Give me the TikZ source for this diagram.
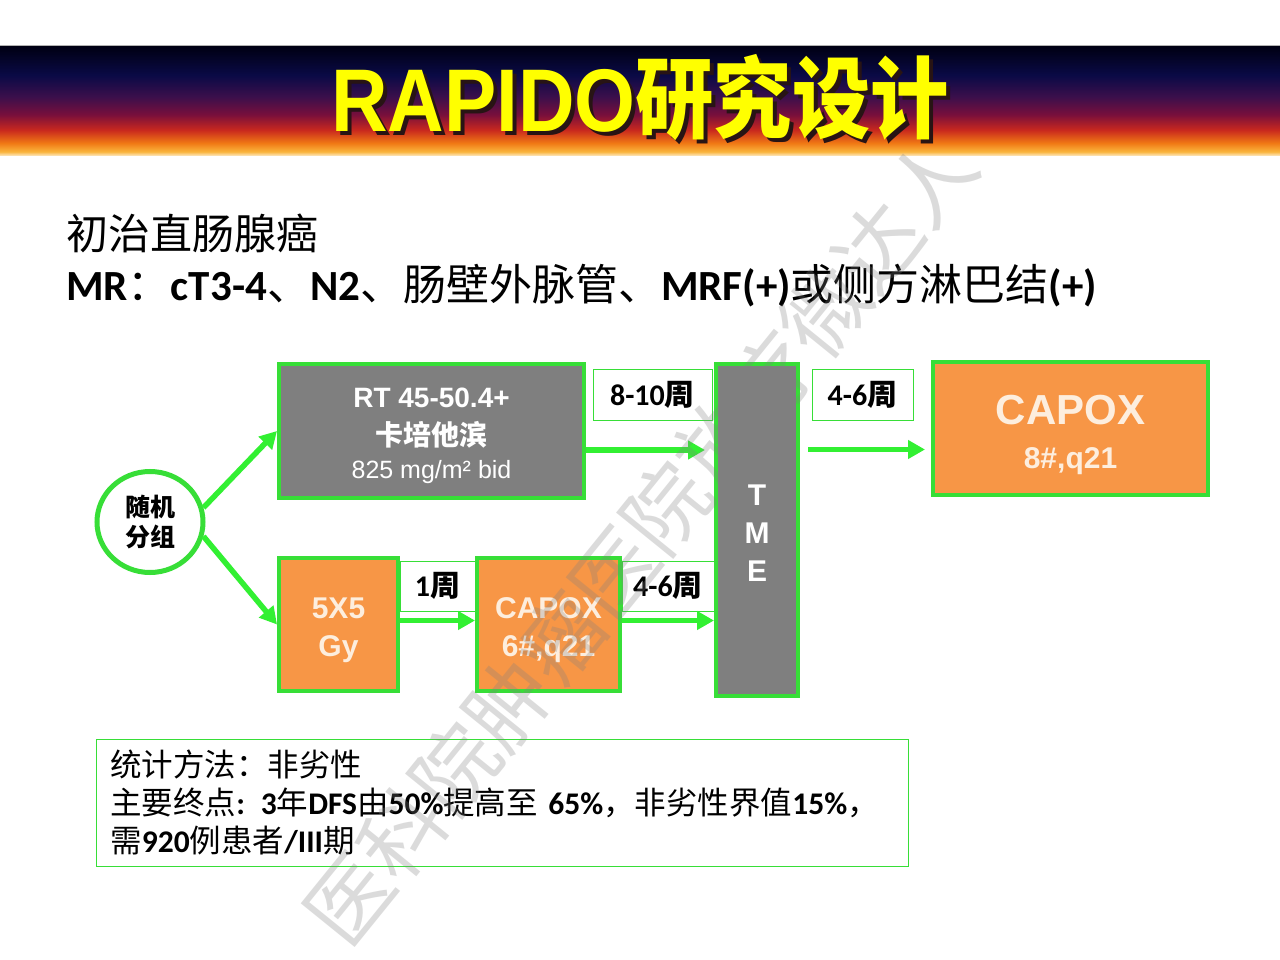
\documentclass[tikz,border=0pt]{standalone}
\usepackage{fontspec}
\setmainfont{Carlito}
\newfontfamily\arialfont{Liberation Sans}
\newfontfamily\cjk{Noto Sans CJK SC}
\usetikzlibrary{shapes.geometric}
\usetikzlibrary{arrows.meta}
\definecolor{rapido-green}{RGB}{55, 222, 55}
\definecolor{arrow-green}{RGB}{50, 240, 50}
\definecolor{rapido-orange}{RGB}{247, 150, 70}
\definecolor{rapido-gray}{RGB}{127, 127, 127}
\definecolor{rapido-cream}{RGB}{253, 238, 222}
\definecolor{title-yellow}{RGB}{255, 255, 0}
\definecolor{title-shadow}{RGB}{40, 20, 20}
\definecolor{bar-dark}{RGB}{0, 0, 20}
\definecolor{bar-navy}{RGB}{10, 10, 70}
\definecolor{bar-purple}{RGB}{60, 15, 75}
\definecolor{bar-maroon}{RGB}{120, 15, 60}
\definecolor{bar-red}{RGB}{200, 40, 30}
\definecolor{bar-orange}{RGB}{240, 120, 20}
\definecolor{bar-light}{RGB}{250, 180, 60}
\definecolor{bar-cream}{RGB}{253, 235, 200}
\pgfdeclareverticalshading{titlebar}{100bp}{color(0bp)=(bar-cream); color(25bp)=(bar-cream); color(27bp)=(bar-light); color(31bp)=(bar-orange); color(37bp)=(bar-red); color(44bp)=(bar-maroon); color(52bp)=(bar-purple); color(62bp)=(bar-navy); color(75bp)=(bar-dark); color(100bp)=(bar-dark)}
\newcommand{\zh}[1]{{\cjk #1}}

\begin{document}
\begin{tikzpicture}[x=1pt, y=-1pt,
    treat/.style={draw=rapido-green, line width=4pt, inner sep=0pt, align=center, font=\arialfont\bfseries},
    graybox/.style={treat, fill=rapido-gray, text=white},
    orangebox/.style={treat, fill=rapido-orange, text=rapido-cream},
    gap/.style={draw=rapido-green, line width=0.8pt, fill=white, inner sep=0pt, font=\bfseries\fontsize{30}{30}\selectfont},
    flow/.style={draw=arrow-green, line width=5.5pt, -{Triangle[length=17pt, width=18pt]}}]
\useasboundingbox (0,0) rectangle (1280,960);
\fill[white] (0,0) rectangle (1280,960);

% title bar
\draw[gray!60, line width=2pt] (0,46) -- (1280,46);
\shade[shading=titlebar] (0,47) rectangle (1280,156);
\node[anchor=base, inner sep=0pt, text=title-shadow] (titleshadow) at (644,136) {\scalebox{0.88}[1]{\fontsize{89}{89}\selectfont\bfseries{\arialfont RAPIDO}\zh{研究设计}}};
\node[anchor=base, inner sep=0pt, text=title-yellow] (title) at (640,132) {\scalebox{0.88}[1]{\fontsize{89}{89}\selectfont\bfseries{\arialfont RAPIDO}\zh{研究设计}}};

% patients
\node[anchor=base west, inner sep=0pt, font=\fontsize{42}{42}\selectfont] (cohort) at (66,250) {\zh{初治直肠腺癌}};
\node[anchor=base west, inner sep=0pt, font=\bfseries\fontsize{43}{43}\selectfont] (criteria) at (66,300) {MR\zh{\mdseries ：}cT3-4\zh{\mdseries 、}N2\zh{\mdseries 、肠壁外脉管、}MRF(+)\zh{\mdseries 或侧方淋巴结}(+)};

% gaps between steps
\node[gap, minimum width=119, minimum height=51] (gapten) at (652.5,394.5) {8-10\zh{周}};
\node[gap, minimum width=101, minimum height=51] (gapsixtop) at (862.5,394.5) {4-6\zh{周}};
\node[gap, minimum width=75, minimum height=50] (gapone) at (437.5,586) {1\zh{周}};
\node[gap, minimum width=92, minimum height=50] (gapsix) at (668,586) {4-6\zh{周}};

% arms
\node[ellipse, draw=rapido-green, line width=5pt, fill=white, minimum width=106, minimum height=101, inner sep=0pt, align=center, font=\cjk\bfseries\fontsize{25}{30}\selectfont] (random) at (150,522) {随机\\分组};
\node[graybox, minimum width=305, minimum height=134, font=\arialfont\bfseries\fontsize{28}{38}\selectfont] (rt) at (431.5,431) {\rule{0pt}{30pt}RT 45-50.4+\\{\cjk 卡培他滨}\\[-5pt]{\mdseries\fontsize{25}{30}\selectfont 825 mg/m² bid}};
\node[orangebox, minimum width=119, minimum height=133, font=\arialfont\bfseries\fontsize{30}{38}\selectfont] (fivebyfive) at (338.5,624.5) {\rule{0pt}{32pt}5X5\\Gy};
\node[orangebox, minimum width=143, minimum height=133, font=\arialfont\bfseries\fontsize{30}{38}\selectfont] (capoxsix) at (548.5,624.5) {\rule{0pt}{32pt}CAPOX\\6\#,q21};
\node[graybox, minimum width=82, minimum height=332, font=\arialfont\bfseries\fontsize{30}{38}\selectfont] (tme) at (757,530) {\rule{0pt}{26pt}T\\M\\E};
\node[orangebox, minimum width=275, minimum height=133, font=\arialfont\bfseries\fontsize{30}{44}\selectfont] (capoxeight) at (1070.5,428.5) {\rule{0pt}{42pt}{\fontsize{42}{46}\selectfont CAPOX}\\8\#,q21};

% arrows
\draw[flow] (random.15) -- (rt.west);
\draw[flow] (random.-15) -- (fivebyfive.west);
\coordinate (rtout) at ([yshift=-19pt]rt.east);
\draw[flow, shorten >=9pt] (rtout) -- (rtout -| tme.west);
\coordinate (capin) at ([yshift=-21pt]capoxeight.west);
\draw[flow, shorten <=8pt, shorten >=6pt] (capin -| tme.east) -- (capin);
\draw[flow] ([yshift=4pt]fivebyfive.east) -- ([yshift=4pt]capoxsix.west);
\coordinate (sixout) at ([yshift=4pt]capoxsix.east);
\draw[flow] (sixout) -- (sixout -| tme.west);

% statistics
\node[draw=rapido-green, line width=0.8pt, anchor=north west, minimum width=812, minimum height=127, text width=784, inner xsep=14pt, align=left, font=\bfseries\fontsize{31.5}{38}\selectfont] (stats) at (96,739) {\zh{\mdseries 统计方法：非劣性}\\\zh{\mdseries 主要终点}: 3\zh{\mdseries 年}DFS\zh{\mdseries 由}50\%\zh{\mdseries 提高至} 65\%\zh{\mdseries ，非劣性界值}15\%\zh{\mdseries ，}\\\zh{\mdseries 需}920\zh{\mdseries 例患者}/III\zh{\mdseries 期}};

% watermark
\node[rotate=51, text=gray, opacity=0.28, inner sep=0pt, font=\cjk\fontsize{84}{84}\selectfont] (watermark) at (640,540) {医科院肿瘤医院放疗微达人};
\end{tikzpicture}
\end{document}
